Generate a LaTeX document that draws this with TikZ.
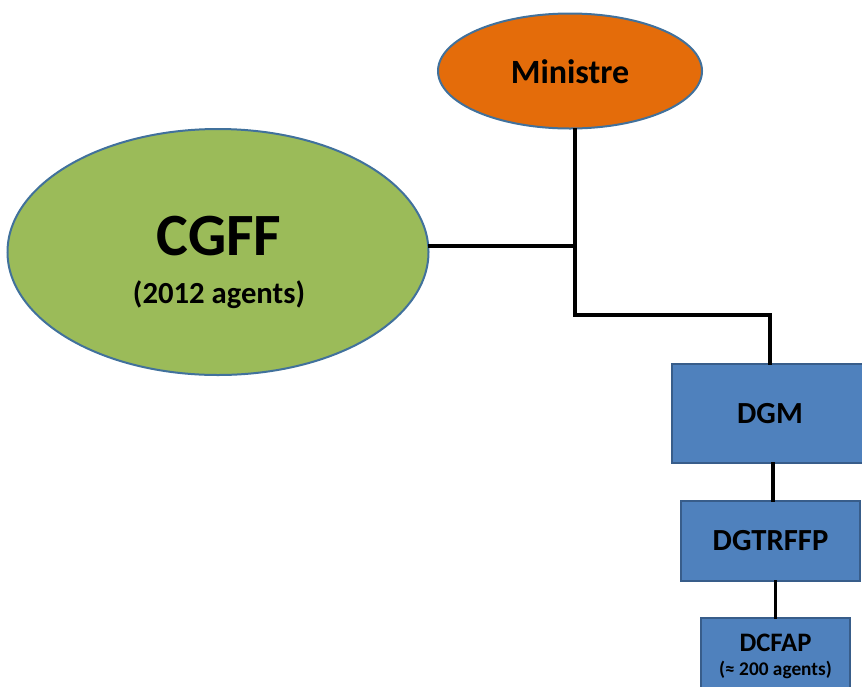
\documentclass[tikz,border=0pt]{standalone}
\usepackage{fontspec}
\setmainfont{Carlito}
\usetikzlibrary{shapes.geometric}
\definecolor{orgorange}{HTML}{E46C0A}
\definecolor{orggreen}{HTML}{9BBB59}
\definecolor{orgblue}{HTML}{4F81BD}
\definecolor{orgedge}{HTML}{41719C}
\definecolor{boxedge}{HTML}{385D8A}
\tikzset{
  oval/.style={ellipse, draw=orgedge, line width=1.5pt, inner sep=0pt},
  unitbox/.style={rectangle, fill=orgblue, draw=boxedge, line width=1.2pt, inner sep=0pt},
  label text/.style={font=\bfseries, text=black, inner sep=0pt},
  link/.style={draw=black, line width=2.3pt, line join=miter, line cap=rect},
}
\begin{document}
\begin{tikzpicture}[x=0.75pt, y=-0.75pt]
\useasboundingbox (0,0) rectangle (862,686);
\clip (0,0) rectangle (862,686);

% ministre
\node[oval, fill=orgorange, minimum width={264*0.75pt}, minimum height={115*0.75pt}] (min) at (570,71) {};
\node[label text, font=\bfseries\fontsize{25.5}{30}\selectfont] (mint) at (570,72) {Ministre};

% CGFF
\node[oval, fill=orggreen, minimum width={421*0.75pt}, minimum height={246*0.75pt}] (cgff) at (218,252) {};
\node[label text, font=\bfseries\fontsize{45}{50}\selectfont] (cgfft) at (219,236) {CGFF};
\node[label text, font=\bfseries\fontsize{23}{28}\selectfont] (cgffa) at (219,295) {(2012 agents)};

% directions
\node[unitbox, minimum width={196*0.75pt}, minimum height={99*0.75pt}, font=\bfseries\fontsize{23}{28}\selectfont] (dgm) at (770,413.5) {DGM};
\node[unitbox, minimum width={179*0.75pt}, minimum height={80*0.75pt}, font=\bfseries\fontsize{23}{28}\selectfont] (dgt) at (770.5,541) {DGTRFFP};
\node[unitbox, minimum width={149*0.75pt}, minimum height={90*0.75pt}] (dcf) at (775.5,663) {};
\node[label text, font=\bfseries\fontsize{20}{24}\selectfont] (dcft) at (775.5,643) {DCFAP};
\node[label text, font=\bfseries\fontsize{14.5}{18}\selectfont] (dcfa) at (775.5,670) {(≈ 200 agents)};

% connectors
\coordinate (j1) at (575,246);
\coordinate (j2) at (575,315);
\coordinate (j3) at (770,315);
\path[link] (j1 |- min.south) -- (j2) -- (j3) -- (dgm.north);
\path[link] (cgff.east |- j1) -- (j1);
\path[link] (dgm.south) ++(3,0) coordinate (k1) -- (k1 |- dgt.north);
\path[link] (dcf.north |- dgt.south) -- (dcf.north);
\end{tikzpicture}
\end{document}
